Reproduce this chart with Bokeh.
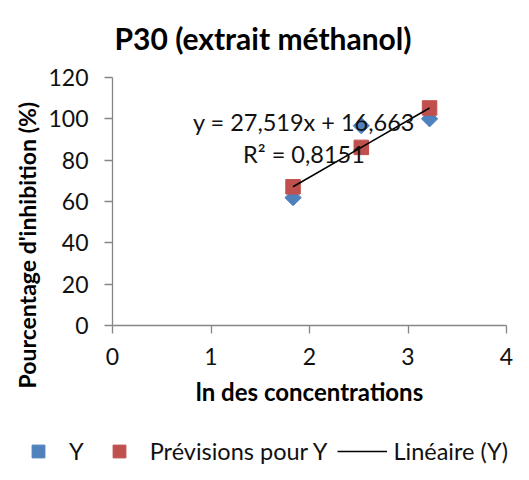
from math import pi

from bokeh.embed import file_html
from bokeh.layouts import column
from bokeh.models import FixedTicker, Label, Legend, LegendItem, Range1d, Title
from bokeh.plotting import figure
from bokeh.resources import INLINE

# ---- data ----
ln_concentrations = [1.833, 2.526, 3.219]
inhibition_Y = [61.87, 96.66, 100.02]
previsions_Y = [67.11, 86.18, 105.25]
x_ticks = [0, 1, 2, 3, 4]
y_ticks = [0, 20, 40, 60, 80, 100, 120]
title_text = "P30 (extrait méthanol)"
x_label = "ln des concentrations"
y_label = "Pourcentage d'inhibition (%)"
equation_text = "y = 27,519x + 16,663"
r2_text = "R² = 0,8151"
legend_labels = ["Y", "Prévisions pour Y", "Linéaire (Y)"]

FONT = "Lato"
AXIS_GRAY = "#868686"
BLUE = "#4F81BD"
RED = "#C0504D"

W = 513
H_TITLE = 60
H_MAIN = 370
H_LEG = 34
FRAME_TOP = 77      # page pixels
FRAME_BOTTOM = 325  # page pixels


def strip(height):
    f = figure(width=W, height=height, output_backend="svg", toolbar_location=None,
               x_range=Range1d(0, 1), y_range=Range1d(0, 1),
               min_border=0, min_border_left=0, min_border_right=0,
               min_border_top=0, min_border_bottom=0,
               x_axis_location=None, y_axis_location=None)
    f.outline_line_color = None
    f.grid.visible = False
    f.border_fill_color = "white"
    f.background_fill_color = "white"
    f.frame_align = False
    return f


# ---- title strip ----
t = strip(H_TITLE)
t.add_layout(Label(x=262.5, y=H_TITLE - 37.5, x_units="screen", y_units="screen",
                   text=title_text, text_align="center", text_baseline="alphabetic",
                   text_font=FONT, text_font_size="30px", text_font_style="bold",
                   text_color="#000000"))

# ---- main chart ----
p = figure(
    width=W, height=H_MAIN,
    output_backend="svg", toolbar_location=None,
    x_range=Range1d(0, 4), y_range=Range1d(0, 120),
    min_border_left=112, min_border_right=7,
    min_border_top=FRAME_TOP - H_TITLE,
    min_border_bottom=H_MAIN - (FRAME_BOTTOM - H_TITLE),
)
p.frame_align = False
p.outline_line_color = None
p.grid.visible = False
p.background_fill_color = "white"
p.border_fill_color = "white"

p.xaxis.ticker = FixedTicker(ticks=x_ticks)
p.yaxis.ticker = FixedTicker(ticks=y_ticks)
for ax in (p.xaxis[0], p.yaxis[0]):
    ax.axis_line_color = AXIS_GRAY
    ax.axis_line_width = 1.3
    ax.major_tick_line_color = AXIS_GRAY
    ax.major_tick_line_width = 1.3
    ax.minor_tick_line_color = None
    ax.major_tick_in = 0
    ax.major_tick_out = 8
    ax.major_label_text_font = FONT
    ax.major_label_text_font_size = "23px"
    ax.major_label_text_color = "#111111"
p.xaxis.major_label_standoff = 14
p.yaxis.major_label_standoff = 16

p.xaxis.axis_label = x_label
p.xaxis.axis_label_text_font = FONT
p.xaxis.axis_label_text_font_size = "24px"
p.xaxis.axis_label_text_font_style = "bold"
p.xaxis.axis_label_text_color = "#000000"
p.xaxis.axis_label_standoff = 9

# vertical axis title as a side-panel title
p.add_layout(Title(text=y_label, align="left", offset=-63, vertical_align="bottom",
                   standoff=10, text_font=FONT, text_font_size="23px",
                   text_font_style="bold", text_color="#000000"), "left")

p.scatter(ln_concentrations, inhibition_Y, marker="square", angle=pi / 4,
          size=11.5, fill_color=BLUE, line_color=BLUE)
p.scatter(ln_concentrations, previsions_Y, marker="square",
          size=14.5, fill_color=RED, line_color=RED)
p.line(ln_concentrations, previsions_Y, line_color="black", line_width=1.6)

p.add_layout(Label(x=1.944, y=98.4, text=equation_text, text_align="center",
                   text_baseline="alphabetic", text_font=FONT,
                   text_font_size="23.5px", text_color="#111111"))
p.add_layout(Label(x=1.944, y=83.1, text=r2_text, text_align="center",
                   text_baseline="alphabetic", text_font=FONT,
                   text_font_size="23.5px", text_color="#111111"))

# ---- legend strip ----
# The key renderers reuse the series, but this strip's ranges keep them off-screen,
# so only the legend keys are visible.
q = strip(H_LEG)
k_y = q.scatter(ln_concentrations, inhibition_Y, marker="square", angle=pi / 4,
                fill_color=BLUE, line_color=BLUE)
k_prev = q.scatter(ln_concentrations, previsions_Y, marker="square",
                   fill_color=RED, line_color=RED)
k_lin = q.line(ln_concentrations, previsions_Y, line_color="black", line_width=1.6)
legend = Legend(
    items=[LegendItem(label=legend_labels[0], renderers=[k_y]),
           LegendItem(label=legend_labels[1], renderers=[k_prev]),
           LegendItem(label=legend_labels[2], renderers=[k_lin])],
    orientation="horizontal", location=(13, -3),
    glyph_width=50, glyph_height=32, label_standoff=6, spacing=10, label_width=0,
    padding=0, margin=0, border_line_color=None, background_fill_alpha=0,
    label_text_font=FONT, label_text_font_size="23.5px", label_text_color="#111111",
)
q.add_layout(legend, "center")

layout = column(t, p, q, spacing=0)
open("out.html", "w").write(file_html(layout, INLINE))
